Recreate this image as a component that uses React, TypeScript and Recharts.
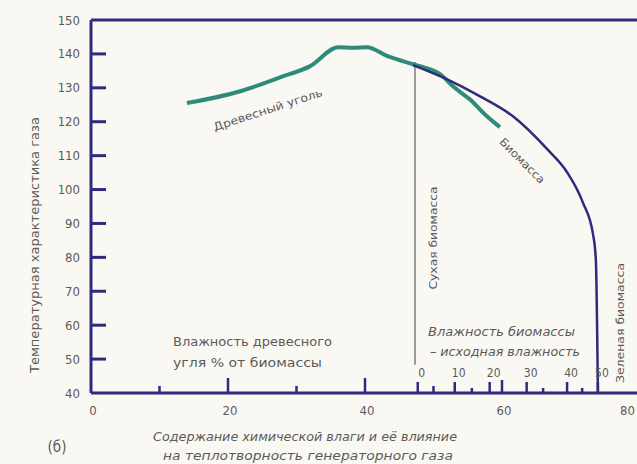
import { LineChart, Line, XAxis, YAxis, ReferenceLine, Customized } from "recharts";

// charcoal curve (teal), x = % moisture, y = gas temperature characteristic
const charcoalX = [14.0, 21.8, 27.6, 32.0, 36.1, 38.2, 40.3, 43.2, 47.0, 48.0, 51.0, 52.8, 55.3, 57.8, 59.7];
const charcoalY = [125.5, 129.0, 133.1, 136.4, 142.0, 141.8, 142.0, 139.4, 137.0, 136.4, 134.0, 130.5, 126.6, 121.6, 118.4];

// biomass curve (dark blue)
const biomassX = [47.0, 52.0, 56.8, 61.6, 66.6, 69.5, 71.8, 73.3, 73.7, 74.0];
const biomassY = [136.7, 132.5, 127.5, 121.6, 111.9, 105.1, 96.2, 86.7, 79.3, 40];

const yTicks = [40, 50, 60, 70, 80, 90, 100, 110, 120, 130, 140, 150];
const xMajor = [20, 40, 60];
const xMinor = [10, 30, 50];
const xLabels = [0, 20, 40, 60, 80];

// second scale: biomass moisture, positions on the main axis
const bioPos = [47.7, 53.1, 58.2, 63.6, 69.5, 74.0];
const bioLabels = ["0", "10", "20", "30", "40", "50"];
const bioMinorPos = [55.6, 66.0, 71.7];

const dryBiomassX = 47.3;
const dryBiomassTop = 137.6;
const dryBiomassBottom = 48.3;

const charcoal = charcoalX.map((x, i) => ({ x, y: charcoalY[i] }));
const biomass = biomassX.map((x, i) => ({ x, y: biomassY[i] }));
const xTicks = Array.from(new Set([...xLabels, ...xMajor, ...xMinor, ...bioPos, ...bioMinorPos])).sort((a, b) => a - b);

const NAVY = "#2f2b7c";
const TEAL = "#2e8b7a";
const TXT = "#5a5a5a";
const FONT = "'DejaVu Sans Condensed', 'Liberation Sans Narrow', sans-serif";

function YTick(props: any) {
  const { x, y, payload } = props;
  const v = payload.value;
  return (
    <g>
      {v > 40 && v < 150 && <line x1={x} x2={x + 15} y1={y} y2={y} stroke={NAVY} strokeWidth={3} />}
      <text x={x - 11} y={y} textAnchor="end" dominantBaseline="central" fontSize={13} fill={TXT} fontFamily={FONT}>
        {v}
      </text>
    </g>
  );
}

function XTick(props: any) {
  const { x, y, payload } = props;
  const v = payload.value;
  let h = 0;
  if (xMajor.includes(v)) h = v === 60 ? 13 : 15;
  else if (xMinor.includes(v)) h = 7;
  else if (bioPos.includes(v)) h = 11;
  else if (bioMinorPos.includes(v)) h = 5;
  const bi = bioPos.indexOf(v);
  const last = v === xLabels[xLabels.length - 1];
  return (
    <g>
      {h > 0 && <line x1={x} x2={x} y1={y} y2={y - h} stroke={NAVY} strokeWidth={2.5} />}
      {xLabels.includes(v) && (
        <text x={last ? x - 4 : x + 2} y={y + 22} textAnchor={last ? "end" : "middle"} fontSize={13} fill={TXT} fontFamily={FONT}>
          {v}
        </text>
      )}
      {bi >= 0 && (
        <text x={x + 4} y={y - 16} textAnchor="middle" fontSize={12} fill={TXT} fontFamily={FONT}>
          {bioLabels[bi]}
        </text>
      )}
    </g>
  );
}

function Annotations() {
  const t = { fill: TXT, fontFamily: FONT, lengthAdjust: "spacingAndGlyphs" as const };
  return (
    <g>
      <text {...t} x={35} y={245} fontSize={12} textAnchor="middle" dominantBaseline="central" textLength={256} transform="rotate(-90 35 245)">
        Температурная характеристика газа
      </text>
      <text {...t} x={268} y={110} fontSize={11} textAnchor="middle" dominantBaseline="central" textLength={114} transform="rotate(-18 268 110)">
        Древесный уголь
      </text>
      <text {...t} x={522} y={161} fontSize={11} textAnchor="middle" dominantBaseline="central" textLength={59} transform="rotate(45 522 161)">
        Биомасса
      </text>
      <text {...t} x={433} y={238} fontSize={11} textAnchor="middle" dominantBaseline="central" textLength={103} transform="rotate(-90 433 238)">
        Сухая биомасса
      </text>
      <text {...t} x={620} y={323} fontSize={11} textAnchor="middle" dominantBaseline="central" textLength={120} transform="rotate(-90 620 323)">
        Зеленая биомасса
      </text>
      <text {...t} x={173} y={346} fontSize={12} textLength={159}>Влажность древесного</text>
      <text {...t} x={173} y={367} fontSize={12} textLength={149}>угля % от биомассы</text>
      <text {...t} x={428} y={336} fontSize={12} fontStyle="italic" textLength={147}>Влажность биомассы</text>
      <text {...t} x={430} y={356} fontSize={12} fontStyle="italic" textLength={150}>– исходная влажность</text>
      <text {...t} x={305} y={441} fontSize={12} fontStyle="italic" textAnchor="middle" textLength={304}>
        Содержание химической влаги и её влияние
      </text>
      <text {...t} x={308} y={460} fontSize={12} fontStyle="italic" textAnchor="middle" textLength={290}>
        на теплотворность генераторного газа
      </text>
      <text {...t} x={57} y={452} fontSize={15} textAnchor="middle">(б)</text>
    </g>
  );
}

export default function App() {
  return (
    <div style={{ position: "absolute", left: 0, top: 0, width: 637, height: 464, overflow: "hidden", background: "#faf8f3" }}>
      <LineChart width={640} height={464} margin={{ top: 20, right: 1, left: 0, bottom: 41 }}>
        <XAxis
          type="number"
          dataKey="x"
          domain={[0, 80]}
          ticks={xTicks}
          interval={0}
          tickSize={0}
          tickMargin={0}
          height={30}
          axisLine={{ stroke: NAVY, strokeWidth: 3 }}
          tick={<XTick />}
          allowDataOverflow
        />
        <YAxis
          type="number"
          domain={[40, 150]}
          ticks={yTicks}
          interval={0}
          tickSize={0}
          tickMargin={0}
          width={91}
          axisLine={{ stroke: NAVY, strokeWidth: 3 }}
          tick={<YTick />}
          allowDataOverflow
        />
        <ReferenceLine y={150} stroke={NAVY} strokeWidth={3} />
        <ReferenceLine
          segment={[{ x: dryBiomassX, y: dryBiomassTop }, { x: dryBiomassX, y: dryBiomassBottom }]}
          stroke="#9c9c9c"
          strokeWidth={2}
        />
        <Line data={charcoal} dataKey="y" type="monotone" stroke={TEAL} strokeWidth={4} dot={false} isAnimationActive={false} />
        <Line data={biomass} dataKey="y" type="monotone" stroke={NAVY} strokeWidth={2.5} dot={false} isAnimationActive={false} />
        <Customized component={<Annotations />} />
      </LineChart>
    </div>
  );
}
